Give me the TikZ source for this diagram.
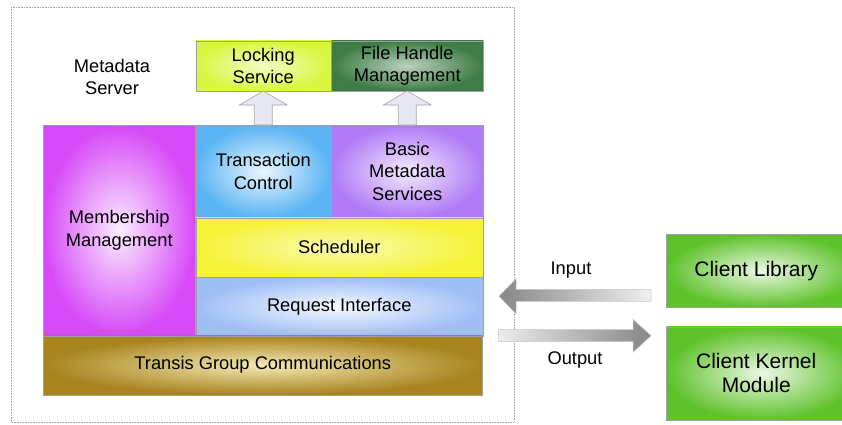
\documentclass[tikz,border=0pt]{standalone}
\usepackage{fontspec}
\setmainfont{Liberation Sans}
\usetikzlibrary{calc,positioning}
\definecolor{MemberPink}{HTML}{D64AF7}
\definecolor{TransBlue}{HTML}{5AB4F4}
\definecolor{BasicViolet}{HTML}{B07AF6}
\definecolor{SchedYellow}{HTML}{F5F238}
\definecolor{ReqBlue}{HTML}{9EBEF6}
\definecolor{GcsBrown}{HTML}{A8831E}
\definecolor{GcsCream}{HTML}{F4EAB4}
\definecolor{LockLime}{HTML}{D9F53F}
\definecolor{FileGreen}{HTML}{3E7C45}
\definecolor{ClientGreen}{HTML}{5EC22A}
\definecolor{ArrowLilac}{HTML}{E6E8F2}

\begin{document}
\begin{tikzpicture}[x=1pt, y=-1pt,
  box/.style={draw=gray!75, line width=0.5pt, inner sep=0pt, align=center, anchor=north west,
    font=\fontsize{18.3}{22.5}\selectfont},
  layer/.style 2 args={box, outer color=#1, inner color=#2},
  client/.style={layer={ClientGreen}{ClientGreen!12!white}, minimum width=192, font=\fontsize{21}{24}\selectfont},
  note/.style={align=center, font=\fontsize{18.3}{22.5}\selectfont},
  frame/.style={draw=gray!70, densely dotted, line width=0.6pt},
  fatup/.style={draw=gray!70, fill=ArrowLilac, line width=0.6pt,
    to path={(\tikztostart) ++(-9,0) |- ($(\tikztotarget)+(-24,14)$) -- (\tikztotarget)
      -- ++(24,14) -| ($(\tikztostart)+(9,0)$) -- cycle}},
  fatleft/.style={draw=gray!45, line width=0.5pt, left color=gray!95, right color=gray!12,
    to path={(\tikztostart) ++(0,-6) -| ($(\tikztotarget)+(17,-17.5)$) -- (\tikztotarget)
      -- ++(17,17.5) |- ($(\tikztostart)+(0,6)$) -- cycle}},
  fatright/.style={draw=gray!45, line width=0.5pt, left color=gray!15, right color=gray!95,
    to path={(\tikztostart) ++(0,-6) -| ($(\tikztotarget)+(-18,-16.5)$) -- (\tikztotarget)
      -- ++(-18,16.5) |- ($(\tikztostart)+(0,6)$) -- cycle}}
]
\useasboundingbox (0,0) rectangle (842,424);
\draw[frame] (11,7) rectangle (514,422);

% server stack
\node[layer={MemberPink}{MemberPink!10!white}, minimum width=152, minimum height=210] (memb) at (43,125) {Membership\\Management};
\node[layer={TransBlue}{TransBlue!12!white}, minimum width=135, minimum height=92] (trans) at (memb.north east) {Transaction\\Control};
\node[layer={BasicViolet}{BasicViolet!15!white}, minimum width=152, minimum height=92] (basic) at (trans.north east) {Basic\\Metadata\\Services};
\node[layer={SchedYellow}{SchedYellow!40!white}, minimum width=287, minimum height=59] (sched) at (trans.south west) {Scheduler};
\node[layer={ReqBlue}{ReqBlue!8!white}, minimum width=287, minimum height=59] (req) at (sched.south west) {Request Interface};
\node[layer={GcsBrown}{GcsCream}, minimum width=439, minimum height=59] (gcs) at (memb.south west) {Transis Group Communications};

% services on top
\node[layer={LockLime}{LockLime!30!white}, minimum width=135, minimum height=50, above=34pt of trans.north west, anchor=south west] (lock) {Locking\\Service};
\node[layer={FileGreen}{FileGreen!35!white}, minimum width=152, minimum height=50] (fhm) at (lock.north east) {File Handle\\Management};
\node[note] (mds) at (112,77) {Metadata\\Server};

\draw[fatup] (trans.north) to (lock.south);
\draw[fatup] (basic.north) to (fhm.south);

% clients
\node[client, minimum height=73] (clib) at (666,234) {Client Library\hspace*{12pt}};
\node[client, minimum height=93, below=19pt of clib.south west, anchor=north west] (ckm) {Client Kernel\hspace*{12pt}\\Module\hspace*{12pt}};

\draw[fatleft] ([shift={(-15,24.5)}]clib.west) to ([shift={(16,-10.5)}]req.east);
\draw[fatright] ([xshift=16pt]gcs.north east) to ([shift={(-15,-37.5)}]ckm.west);
\node[note] (inlbl) at (571,270) {Input};
\node[note] (outlbl) at (575,360) {Output};
\end{tikzpicture}
\end{document}
